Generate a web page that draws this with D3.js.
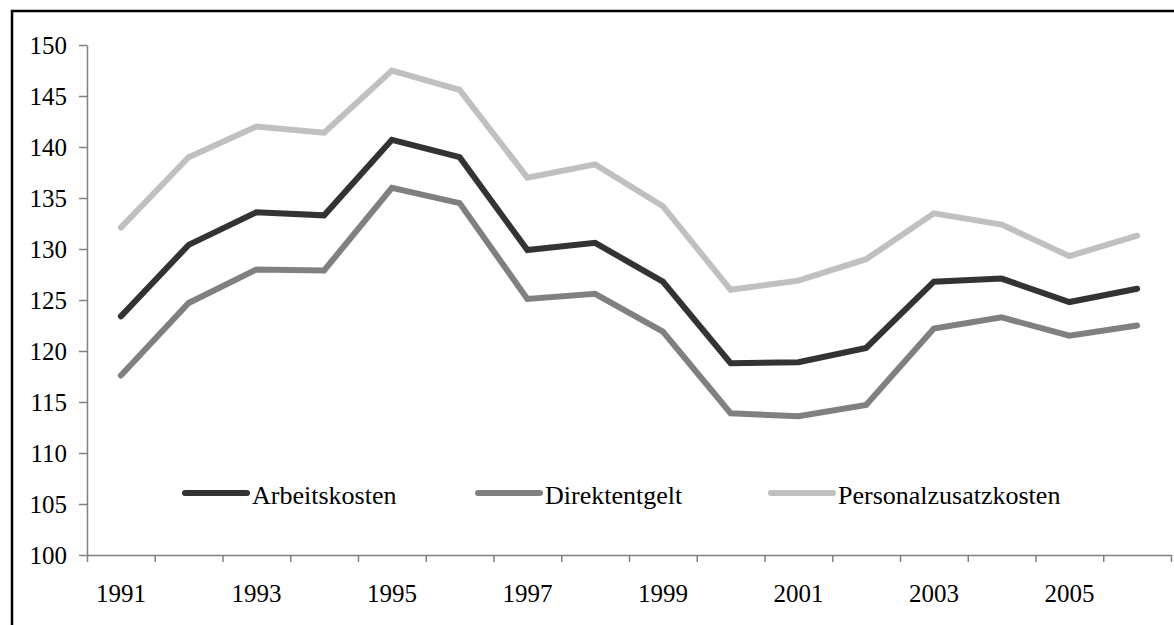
<!DOCTYPE html>
<html>
<head>
<meta charset="utf-8">
<script src="https://cdn.jsdelivr.net/npm/d3@7"></script>
<style>
  body { margin: 0; background: #fff; }
  svg { display: block; }
  text { font-family: "Liberation Serif", "Times New Roman", serif; fill: #000; }
</style>
</head>
<body>
<div id="chart"></div>
<script>
var years = ["1991", "1992", "1993", "1994", "1995", "1996", "1997", "1998",
	"1999", "2000", "2001", "2002", "2003", "2004", "2005", "2006"];
var arbeitskosten = [123.4, 130.4, 133.6, 133.3, 140.7, 139.0, 129.9, 130.6,
	126.8, 118.8, 118.9, 120.3, 126.8, 127.1, 124.8, 126.1];
var direktentgelt = [117.6, 124.7, 128.0, 127.9, 136.0, 134.5, 125.1, 125.6,
	121.9, 113.9, 113.6, 114.7, 122.2, 123.3, 121.5, 122.5];
var personalzusatzkosten = [132.1, 139.0, 142.0, 141.4, 147.5, 145.6, 137.0, 138.3,
	134.2, 126.0, 126.9, 129.0, 133.5, 132.4, 129.3, 131.3];
var seriesNames = ["Arbeitskosten", "Direktentgelt", "Personalzusatzkosten"];
var yTicks = [100, 105, 110, 115, 120, 125, 130, 135, 140, 145, 150];

(function () {
	var width = 1174;
	var height = 625;
	var left = 87, right = 1171, top = 45, bottom = 555;

	var colors = ["#333333", "#808080", "#c0c0c0"];
	var legendX = [185, 478, 771];
	var legendY = 493;

	var svg = d3.select("#chart")
		.append("svg")
		.attr("width", width)
		.attr("height", height);

	// frame (cut off at right and bottom)
	svg.append("path")
		.attr("d", "M12," + (height + 5) + "V11H" + (width + 5))
		.attr("fill", "none")
		.attr("stroke", "#000")
		.attr("stroke-width", 2.5);

	var x = d3.scaleBand().domain(years).range([left, right]).padding(0);
	var edges = d3.scaleLinear().domain([0, years.length]).range([left, right]);
	var y = d3.scaleLinear().domain([100, 150]).range([bottom, top]);

	// y axis
	var yAxis = svg.append("g")
		.attr("transform", "translate(" + left + ",0)")
		.call(d3.axisLeft(y).tickValues(yTicks).tickSize(8).tickPadding(12).tickSizeOuter(0));

	// x axis: ticks on band edges, labels on band centres
	var xTicks = svg.append("g")
		.attr("transform", "translate(0," + bottom + ")")
		.call(d3.axisBottom(edges).tickValues(d3.range(0, years.length + 1)).tickSize(7).tickFormat("").tickSizeOuter(0));

	var xLabels = svg.append("g")
		.attr("transform", "translate(0," + bottom + ")")
		.call(d3.axisBottom(x).tickSize(0).tickPadding(29)
			.tickFormat(function (d, i) { return i % 2 === 0 ? d : ""; }));
	xLabels.select(".domain").remove();

	[yAxis, xTicks].forEach(function (a) {
		a.selectAll(".domain, line").attr("stroke", "#808080").attr("stroke-width", 1.5);
	});
	svg.selectAll(".tick text")
		.style("font-family", "'Liberation Serif', 'Times New Roman', serif")
		.style("font-size", "25px")
		.attr("fill", "#000");

	var line = d3.line()
		.x(function (d, i) { return x(years[i]) + x.bandwidth() / 2; })
		.y(function (d) { return y(d); });

	var allSeries = [arbeitskosten, direktentgelt, personalzusatzkosten];

	// draw light first so dark ends up on top
	for (var s = allSeries.length - 1; s >= 0; s--) {
		svg.append("path")
			.datum(allSeries[s])
			.attr("d", line)
			.attr("fill", "none")
			.attr("stroke", colors[s])
			.attr("stroke-width", 6)
			.attr("stroke-linejoin", "miter")
			.attr("stroke-linecap", "round");
	}

	// legend
	var legend = svg.append("g");
	seriesNames.forEach(function (name, i) {
		legend.append("line")
			.attr("x1", legendX[i]).attr("x2", legendX[i] + 62)
			.attr("y1", legendY).attr("y2", legendY)
			.attr("stroke", colors[i])
			.attr("stroke-width", 6)
			.attr("stroke-linecap", "round");
		legend.append("text")
			.attr("x", legendX[i] + 67)
			.attr("y", legendY + 11)
			.style("font-size", "26px")
			.text(name);
	});
})();
</script>
</body>
</html>
